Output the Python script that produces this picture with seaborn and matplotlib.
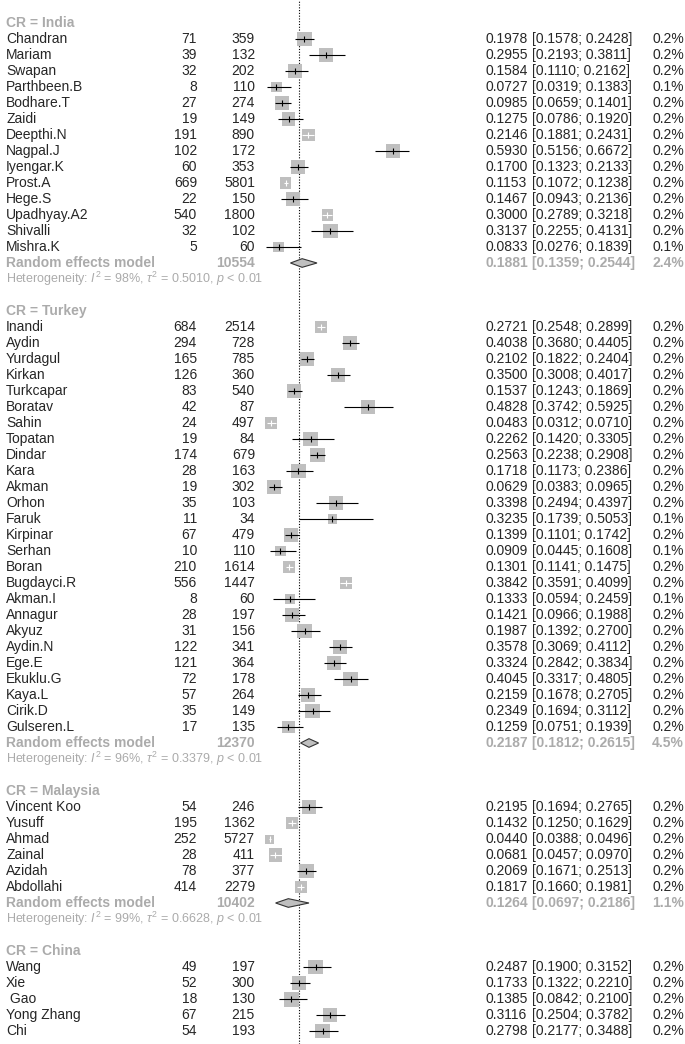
import numpy as np
import pandas as pd
import matplotlib
matplotlib.use("Agg")
import matplotlib.pyplot as plt
import seaborn as sns

# ---------------- data ----------------
groups = ["India", "Turkey", "Malaysia", "China"]

india_study = ["Chandran", "Mariam", "Swapan", "Parthbeen.B", "Bodhare.T", "Zaidi", "Deepthi.N",
               "Nagpal.J", "Iyengar.K", "Prost.A", "Hege.S", "Upadhyay.A2", "Shivalli", "Mishra.K"]
india_events = [71, 39, 32, 8, 27, 19, 191, 102, 60, 669, 22, 540, 32, 5]
india_total = [359, 132, 202, 110, 274, 149, 890, 172, 353, 5801, 150, 1800, 102, 60]
india_prop = [0.1978, 0.2955, 0.1584, 0.0727, 0.0985, 0.1275, 0.2146, 0.5930, 0.1700, 0.1153, 0.1467, 0.3000, 0.3137, 0.0833]
india_lower = [0.1578, 0.2193, 0.1110, 0.0319, 0.0659, 0.0786, 0.1881, 0.5156, 0.1323, 0.1072, 0.0943, 0.2789, 0.2255, 0.0276]
india_upper = [0.2428, 0.3811, 0.2162, 0.1383, 0.1401, 0.1920, 0.2431, 0.6672, 0.2133, 0.1238, 0.2136, 0.3218, 0.4131, 0.1839]
india_weight = [0.2, 0.2, 0.2, 0.1, 0.2, 0.2, 0.2, 0.2, 0.2, 0.2, 0.2, 0.2, 0.2, 0.1]
india_box = [0.93, 0.93, 0.87, 0.49, 0.81, 0.81, 0.75, 0.93, 0.87, 0.54, 0.87, 0.54, 0.93, 0.49]

turkey_study = ["Inandi", "Aydin", "Yurdagul", "Kirkan", "Turkcapar", "Boratav", "Sahin", "Topatan", "Dindar",
                "Kara", "Akman", "Orhon", "Faruk", "Kirpinar", "Serhan", "Boran", "Bugdayci.R", "Akman.I",
                "Annagur", "Akyuz", "Aydin.N", "Ege.E", "Ekuklu.G", "Kaya.L", "Cirik.D", "Gulseren.L"]
turkey_events = [684, 294, 165, 126, 83, 42, 24, 19, 174, 28, 19, 35, 11, 67, 10, 210, 556, 8, 28, 31, 122, 121, 72, 57, 35, 17]
turkey_total = [2514, 728, 785, 360, 540, 87, 497, 84, 679, 163, 302, 103, 34, 479, 110, 1614, 1447, 60, 197, 156, 341, 364, 178, 264, 149, 135]
turkey_prop = [0.2721, 0.4038, 0.2102, 0.3500, 0.1537, 0.4828, 0.0483, 0.2262, 0.2563, 0.1718, 0.0629, 0.3398, 0.3235,
               0.1399, 0.0909, 0.1301, 0.3842, 0.1333, 0.1421, 0.1987, 0.3578, 0.3324, 0.4045, 0.2159, 0.2349, 0.1259]
turkey_lower = [0.2548, 0.3680, 0.1822, 0.3008, 0.1243, 0.3742, 0.0312, 0.1420, 0.2238, 0.1173, 0.0383, 0.2494, 0.1739,
                0.1101, 0.0445, 0.1141, 0.3591, 0.0594, 0.0966, 0.1392, 0.3069, 0.2842, 0.3317, 0.1678, 0.1694, 0.0751]
turkey_upper = [0.2899, 0.4405, 0.2404, 0.4017, 0.1869, 0.5925, 0.0710, 0.3305, 0.2908, 0.2386, 0.0965, 0.4397, 0.5053,
                0.1742, 0.1608, 0.1475, 0.4099, 0.2459, 0.1988, 0.2700, 0.4112, 0.3834, 0.4805, 0.2705, 0.3112, 0.1939]
turkey_weight = [0.2] * 12 + [0.1, 0.2, 0.1, 0.2, 0.2, 0.1] + [0.2] * 8
turkey_box = [0.64, 0.87, 0.80, 0.87, 0.87, 0.87, 0.64, 0.93, 0.93, 0.93, 0.87, 0.93, 0.41,
              0.87, 0.49, 0.64, 0.69, 0.49, 0.93, 0.93, 0.93, 0.87, 0.93, 0.87, 0.93, 0.75]

malaysia_study = ["Vincent Koo", "Yusuff", "Ahmad", "Zainal", "Azidah", "Abdollahi"]
malaysia_events = [54, 195, 252, 28, 78, 414]
malaysia_total = [246, 1362, 5727, 411, 377, 2279]
malaysia_prop = [0.2195, 0.1432, 0.0440, 0.0681, 0.2069, 0.1817]
malaysia_lower = [0.1694, 0.1250, 0.0388, 0.0457, 0.1671, 0.1660]
malaysia_upper = [0.2765, 0.1629, 0.0496, 0.0970, 0.2513, 0.1981]
malaysia_weight = [0.2] * 6
malaysia_box = [0.87, 0.64, 0.36, 0.77, 0.93, 0.64]

china_study = ["Wang", "Xie", " Gao", "Yong Zhang", "Chi"]
china_events = [49, 52, 18, 67, 54]
china_total = [197, 300, 130, 215, 193]
china_prop = [0.2487, 0.1733, 0.1385, 0.3116, 0.2798]
china_lower = [0.1900, 0.1322, 0.0842, 0.2504, 0.2177]
china_upper = [0.3152, 0.2210, 0.2100, 0.3782, 0.3488]
china_weight = [0.2] * 5
china_box = [0.93, 0.93, 1.00, 0.93, 0.93]

# random effects model per subgroup (China's is below the crop)
pooled_total = [10554, 12370, 10402]
pooled_prop = [0.1881, 0.2187, 0.1264]
pooled_lower = [0.1359, 0.1812, 0.0697]
pooled_upper = [0.2544, 0.2615, 0.2186]
pooled_weight = [2.4, 4.5, 1.1]
het_i2 = [98, 96, 99]
het_tau2 = [0.5010, 0.3379, 0.6628]

overall_prop = 0.1755

# ---------------- assemble rows ----------------
study_sets = [
    (india_study, india_events, india_total, india_prop, india_lower, india_upper, india_weight, india_box),
    (turkey_study, turkey_events, turkey_total, turkey_prop, turkey_lower, turkey_upper, turkey_weight, turkey_box),
    (malaysia_study, malaysia_events, malaysia_total, malaysia_prop, malaysia_lower, malaysia_upper, malaysia_weight, malaysia_box),
    (china_study, china_events, china_total, china_prop, china_lower, china_upper, china_weight, china_box),
]

records = []
header_rows, pooled_rows, het_rows = [], [], []
r = 0
for g, s in enumerate(study_sets):
    header_rows.append(r)
    r += 1
    for i in range(len(s[0])):
        records.append(dict(row=r, study=s[0][i], events=s[1][i], total=s[2][i], prop=s[3][i],
                            lower=s[4][i], upper=s[5][i], weight=s[6][i], box=s[7][i]))
        r += 1
    if g < len(pooled_prop):
        pooled_rows.append(r)
        het_rows.append(r + 1)
        r += 3
df = pd.DataFrame(records)

# ---------------- plot ----------------
sns.set_theme(style="white")
plt.rcParams["font.family"] = ["Liberation Sans", "DejaVu Sans"]
plt.rcParams["mathtext.fontset"] = "custom"
plt.rcParams["mathtext.rm"] = "Liberation Sans"
plt.rcParams["mathtext.it"] = "Liberation Sans:italic"
plt.rcParams["mathtext.bf"] = "Liberation Sans:bold"

W, H = 685, 1044
fig = plt.figure(figsize=(W / 100, H / 100), dpi=100)
ax = fig.add_axes([0, 0, 1, 1])
x0, ppu = 260, 224          # pixel of proportion 0, pixels per unit
top, rowh = 23, 16          # pixel of first row, row height
ax.set_xlim(-x0 / ppu, (W - x0) / ppu)
ax.set_ylim((H - top) / rowh, -top / rowh)

grey_txt = "#ababab"
box_col = "#bfbfbf"
max_side = 15  # px

ax.axvline(overall_prop, color="black", ls=(0, (1, 1.5)), lw=0.8, zorder=1)

sns.scatterplot(data=df, x="prop", y="row", size="box", sizes=(0, (max_side * 0.72) ** 2),
                size_norm=(0, 1), marker="s", color=box_col, linewidth=0, legend=False, ax=ax, zorder=2)

half = max_side * np.sqrt(df["box"]) / 2 / ppu
inside = ((df["prop"] - df["lower"]) <= half) & ((df["upper"] - df["prop"]) <= half)
cols = np.where(inside, "white", "black")
ax.hlines(df["row"], df["lower"], df["upper"], colors=cols, lw=0.8, zorder=3)
ax.vlines(df["prop"], df["row"] - 0.16, df["row"] + 0.16, colors=cols, lw=0.8, zorder=3)

for k, yr in enumerate(pooled_rows):
    p, lo, hi = pooled_prop[k], pooled_lower[k], pooled_upper[k]
    ax.fill([lo, p, hi, p], [yr, yr - 0.27, yr, yr + 0.27], facecolor=box_col, edgecolor="#333333", lw=0.8, zorder=3)

ax.axis("off")

tr = ax.get_yaxis_transform()
fs = 10
px = lambda v: v / W
col_name, col_ev, col_tot, col_p, col_ci, col_w = 6, 197, 255, 486, 532, 684

for g, yr in enumerate(header_rows):
    ax.text(px(col_name), yr, f"CR = {groups[g]}", transform=tr, fontsize=fs, color=grey_txt,
            fontweight="bold", va="center", ha="left")

for _, d in df.iterrows():
    y = d["row"]
    ax.text(px(col_name), y, d["study"], transform=tr, fontsize=fs, va="center", ha="left")
    ax.text(px(col_ev), y, f"{d['events']:.0f}", transform=tr, fontsize=fs, va="center", ha="right")
    ax.text(px(col_tot), y, f"{d['total']:.0f}", transform=tr, fontsize=fs, va="center", ha="right")
    ax.text(px(col_p), y, f"{d['prop']:.4f}", transform=tr, fontsize=fs, va="center", ha="left")
    ax.text(px(col_ci), y, f"[{d['lower']:.4f}; {d['upper']:.4f}]", transform=tr, fontsize=fs, va="center", ha="left")
    ax.text(px(col_w), y, f"{d['weight']:.1f}%", transform=tr, fontsize=fs, va="center", ha="right")

for k, yr in enumerate(pooled_rows):
    kw = dict(transform=tr, fontsize=fs, color=grey_txt, fontweight="bold", va="center")
    ax.text(px(col_name), yr, "Random effects model", ha="left", **kw)
    ax.text(px(col_tot), yr, f"{pooled_total[k]}", ha="right", **kw)
    ax.text(px(col_p), yr, f"{pooled_prop[k]:.4f}", ha="left", **kw)
    ax.text(px(col_ci), yr, f"[{pooled_lower[k]:.4f}; {pooled_upper[k]:.4f}]", ha="left", **kw)
    ax.text(px(col_w), yr, f"{pooled_weight[k]:.1f}%", ha="right", **kw)
    het = (r"Heterogeneity: $I^2$ = " + f"{het_i2[k]}%, " + r"$\tau^2$ = " + f"{het_tau2[k]:.4f}, "
           + r"$p$ < 0.01")
    ax.text(px(col_name), het_rows[k], het, transform=tr, fontsize=9, color=grey_txt, va="center", ha="left")

fig.savefig("out.png", dpi=100)
